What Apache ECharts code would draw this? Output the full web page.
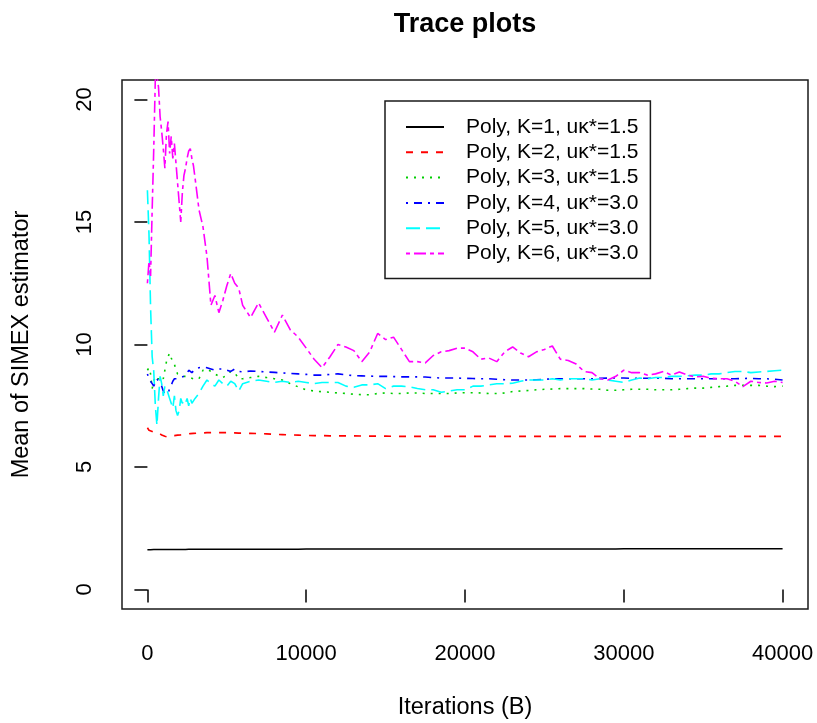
<!DOCTYPE html>
<html>
<head>
<meta charset="utf-8">
<title>Trace plots</title>
<script src="https://cdn.jsdelivr.net/npm/echarts@6/dist/echarts.min.js"></script>
<style>
  html, body { margin: 0; padding: 0; background: #ffffff; }
  #chart { width: 817px; height: 723px; }
</style>
</head>
<body>
<div id="chart"></div>
<script>
// Iteration counts at which the running means were recorded
const iterations = [
  0, 100, 200, 300, 400, 500, 600, 700, 800, 900,
  1000, 1100, 1200, 1300, 1400, 1500, 1600, 1700, 1800, 1900,
  2000, 2100, 2200, 2300, 2400, 2500, 2600, 2700, 2800, 2900,
  3000, 3250, 3500, 3750, 4000, 4250, 4500, 4750, 5000, 5250,
  5500, 5750, 6000, 6500, 7000, 7500, 8000, 8500, 9000, 9500,
  10000, 10500, 11000, 11500, 12000, 12500, 13000, 13500, 14000, 14500,
  15000, 15500, 16000, 16500, 17000, 17500, 18000, 18500, 19000, 19500,
  20000, 20500, 21000, 21500, 22000, 22500, 23000, 23500, 24000, 24500,
  25000, 25500, 26000, 26500, 27000, 27500, 28000, 28500, 29000, 29500,
  30000, 30500, 31000, 31500, 32000, 32500, 33000, 33500, 34000, 34500,
  35000, 35500, 36000, 36500, 37000, 37500, 38000, 38500, 39000, 39500,
  40000
];

// Running mean of the SIMEX estimator, one array per polynomial order K
const meanK1 = [
  1.62, 1.61, 1.62, 1.62, 1.63, 1.62, 1.63, 1.63, 1.63, 1.63,
  1.63, 1.63, 1.63, 1.63, 1.63, 1.63, 1.63, 1.63, 1.63, 1.63,
  1.63, 1.63, 1.63, 1.63, 1.63, 1.63, 1.64, 1.64, 1.64, 1.64,
  1.64, 1.64, 1.64, 1.64, 1.64, 1.64, 1.64, 1.64, 1.64, 1.64,
  1.64, 1.64, 1.64, 1.64, 1.64, 1.64, 1.64, 1.64, 1.64, 1.64,
  1.65, 1.65, 1.65, 1.65, 1.65, 1.65, 1.65, 1.65, 1.65, 1.65,
  1.65, 1.65, 1.65, 1.65, 1.65, 1.65, 1.65, 1.65, 1.65, 1.65,
  1.65, 1.65, 1.65, 1.65, 1.65, 1.65, 1.65, 1.65, 1.65, 1.65,
  1.65, 1.65, 1.65, 1.65, 1.65, 1.65, 1.65, 1.65, 1.65, 1.65,
  1.66, 1.66, 1.66, 1.66, 1.66, 1.66, 1.66, 1.66, 1.66, 1.66,
  1.66, 1.66, 1.66, 1.66, 1.66, 1.66, 1.66, 1.66, 1.66, 1.66,
  1.66
];
const meanK2 = [
  6.60, 6.50, 6.45, 6.45, 6.50, 6.45, 6.43, 6.40, 6.35, 6.30,
  6.28, 6.25, 6.25, 6.22, 6.25, 6.27, 6.28, 6.28, 6.30, 6.30,
  6.30, 6.31, 6.32, 6.33, 6.33, 6.34, 6.35, 6.36, 6.36, 6.37,
  6.37, 6.38, 6.39, 6.40, 6.40, 6.40, 6.40, 6.40, 6.40, 6.39,
  6.39, 6.38, 6.38, 6.37, 6.36, 6.35, 6.33, 6.32, 6.31, 6.30,
  6.29, 6.28, 6.28, 6.27, 6.27, 6.27, 6.27, 6.26, 6.26, 6.26,
  6.26, 6.25, 6.25, 6.25, 6.25, 6.25, 6.25, 6.25, 6.25, 6.25,
  6.25, 6.25, 6.25, 6.25, 6.25, 6.25, 6.25, 6.25, 6.25, 6.25,
  6.25, 6.25, 6.25, 6.25, 6.25, 6.25, 6.25, 6.25, 6.25, 6.25,
  6.25, 6.25, 6.25, 6.25, 6.25, 6.25, 6.25, 6.25, 6.25, 6.25,
  6.25, 6.25, 6.25, 6.25, 6.25, 6.25, 6.25, 6.25, 6.25, 6.25,
  6.25
];
const meanK3 = [
  8.95, 9.05, 8.80, 8.20, 8.50, 8.70, 8.60, 8.55, 8.60, 8.70,
  8.60, 8.95, 9.30, 9.50, 9.65, 9.45, 9.30, 9.20, 8.95, 8.80,
  8.80, 8.75, 8.70, 8.70, 8.65, 8.70, 8.70, 8.65, 8.70, 8.60,
  8.55, 8.60, 8.95, 9.00, 8.90, 8.80, 8.70, 8.65, 8.75, 8.90,
  8.85, 8.60, 8.60, 8.65, 8.70, 8.65, 8.60, 8.55, 8.40, 8.27,
  8.15, 8.10, 8.07, 8.05, 8.02, 8.00, 7.97, 7.95, 7.95, 8.00,
  8.02, 8.00, 8.00, 8.02, 8.02, 8.00, 8.00, 8.00, 8.00, 8.02,
  8.03, 8.03, 8.02, 8.00, 8.00, 8.02, 8.08, 8.10, 8.12, 8.15,
  8.17, 8.18, 8.20, 8.20, 8.20, 8.20, 8.18, 8.17, 8.13, 8.13,
  8.15, 8.17, 8.17, 8.17, 8.15, 8.15, 8.15, 8.17, 8.20, 8.22,
  8.22, 8.25, 8.28, 8.30, 8.33, 8.33, 8.33, 8.33, 8.30, 8.28,
  8.30
];
const meanK4 = [
  8.80, 8.60, 8.50, 8.40, 8.30, 8.45, 8.60, 8.50, 8.40, 8.30,
  8.10, 8.00, 7.95, 8.00, 8.20, 8.34, 8.50, 8.60, 8.65, 8.60,
  8.65, 8.65, 8.60, 8.70, 8.75, 8.80, 8.95, 8.90, 8.85, 8.90,
  9.00, 9.05, 9.08, 9.05, 9.00, 8.95, 9.00, 9.00, 8.95, 8.90,
  9.00, 8.90, 8.88, 8.92, 8.90, 8.88, 8.86, 8.84, 8.82, 8.80,
  8.78, 8.75, 8.75, 8.78, 8.80, 8.76, 8.73, 8.72, 8.71, 8.70,
  8.70, 8.69, 8.68, 8.68, 8.68, 8.67, 8.65, 8.63, 8.63, 8.63,
  8.62, 8.61, 8.60, 8.60, 8.58, 8.56, 8.55, 8.55, 8.55, 8.56,
  8.58, 8.60, 8.60, 8.60, 8.60, 8.60, 8.60, 8.62, 8.63, 8.63,
  8.63, 8.62, 8.62, 8.62, 8.63, 8.62, 8.60, 8.60, 8.60, 8.60,
  8.60, 8.60, 8.60, 8.60, 8.60, 8.61, 8.62, 8.60, 8.60, 8.58,
  8.55
];
const meanK5 = [
  16.3, 14.5, 11.5, 9.5, 8.9, 7.5, 6.7, 7.8, 8.7, 8.4,
  7.9, 8.3, 8.2, 8.0, 7.8, 7.6, 7.4, 7.9, 7.3, 7.1,
  7.3, 7.8, 7.6, 7.7, 7.6, 7.8, 7.5, 7.8, 7.6, 7.7,
  7.8, 8.0, 8.3, 8.55, 8.4, 8.3, 8.55, 8.4, 8.3, 8.5,
  8.4, 8.1, 8.4, 8.5, 8.55, 8.5, 8.45, 8.5, 8.45, 8.5,
  8.45, 8.4, 8.45, 8.45, 8.45, 8.3, 8.25, 8.35, 8.35, 8.4,
  8.2, 8.3, 8.3, 8.27, 8.2, 8.15, 8.15, 8.05, 8.1, 8.15,
  8.15, 8.3, 8.3, 8.35, 8.4, 8.4, 8.42, 8.5, 8.55, 8.55,
  8.55, 8.6, 8.55, 8.6, 8.6, 8.6, 8.55, 8.6, 8.55, 8.5,
  8.45, 8.55, 8.63, 8.6, 8.65, 8.65, 8.7, 8.7, 8.72, 8.75,
  8.75, 8.8, 8.8, 8.85, 8.9, 8.9, 8.85, 8.88, 8.9, 8.93,
  8.95
];
const meanK6 = [
  12.5, 13.4, 12.8, 15.5, 18.0, 20.9, 21.0, 20.5, 19.3, 18.7,
  18.0, 17.2, 18.6, 19.1, 17.8, 18.5, 17.6, 18.2, 17.4, 16.6,
  15.8, 15.0, 16.2, 16.9, 17.2, 17.6, 17.9, 18.0, 17.6, 17.3,
  16.8, 15.5, 14.8, 13.6, 11.6, 12.0, 11.3, 11.8, 12.4, 12.9,
  12.5, 12.3, 11.6, 11.1, 11.7, 11.1, 10.5, 11.2, 10.6, 10.3,
  9.85, 9.4, 9.05, 9.5, 10.0, 9.9, 9.75, 9.3, 9.7, 10.45,
  10.2, 10.3, 9.8, 9.3, 9.3, 9.25, 9.55, 9.7, 9.75, 9.85,
  9.85, 9.7, 9.4, 9.45, 9.3, 9.7, 9.9, 9.65, 9.5, 9.7,
  9.8, 9.94, 9.4, 9.35, 9.2, 8.9, 8.85, 8.6, 8.55, 8.7,
  8.95, 8.85, 8.85, 8.75, 8.8, 8.9, 8.75, 8.88, 8.75, 8.68,
  8.7, 8.62, 8.6, 8.6, 8.5, 8.28, 8.5, 8.45, 8.43, 8.5,
  8.45
];

const seriesNames = [
  'Poly, K=1, uκ*=1.5',
  'Poly, K=2, uκ*=1.5',
  'Poly, K=3, uκ*=1.5',
  'Poly, K=4, uκ*=3.0',
  'Poly, K=5, uκ*=3.0',
  'Poly, K=6, uκ*=3.0'
];
const seriesValues = [meanK1, meanK2, meanK3, meanK4, meanK5, meanK6];
const xTicks = [0, 10000, 20000, 30000, 40000];
const yTicks = [0, 5, 10, 15, 20];

// Line colours and dash patterns: solid, dashed, dotted, dot-dash, long dash, two-dash
const lineColors = ['#000000', '#ff0000', '#00cd00', '#0000ff', '#00ffff', '#ff00ff'];
const lineDashes = ['solid', [7, 8], [2, 6], [2, 6, 8, 6], [14, 6], [4, 4, 12, 4]];

const FONT = '"Liberation Sans", Arial, Helvetica, sans-serif';

const series = seriesNames.map((name, s) => ({
  name: name,
  type: 'line',
  symbol: 'none',
  showSymbol: false,
  animation: false,
  clip: true,
  lineStyle: { color: lineColors[s], width: 1.6, type: lineDashes[s] },
  itemStyle: { color: lineColors[s] },
  data: iterations.map((t, i) => [t, seriesValues[s][i]])
}));

const chart = echarts.init(document.getElementById('chart'), null, { renderer: 'canvas' });
chart.setOption({
  backgroundColor: '#ffffff',
  animation: false,
  textStyle: { fontFamily: FONT },
  title: {
    text: 'Trace plots',
    left: 465,
    top: 11,
    textAlign: 'center',
    padding: 0,
    textStyle: { fontFamily: FONT, fontSize: 27, fontWeight: 'bold', color: '#000' }
  },
  grid: {
    left: 122, right: 9, top: 80, bottom: 114,
    containLabel: false,
    outerBoundsMode: 'none',
    show: true,
    borderColor: '#1a1a1a',
    borderWidth: 1.5,
    backgroundColor: 'transparent'
  },
  legend: {
    orient: 'vertical',
    left: 385,
    top: 101,
    data: seriesNames,
    backgroundColor: '#ffffff',
    borderColor: '#1a1a1a',
    borderWidth: 1.5,
    borderRadius: 0,
    padding: [15, 12, 14, 20],
    itemWidth: 38,
    itemHeight: 14,
    itemGap: 3.3,
    selectedMode: false,
    itemStyle: { opacity: 0, color: 'transparent', borderWidth: 0 },
    textStyle: { fontFamily: FONT, fontSize: 21, color: '#000', lineHeight: 22, padding: [0, 0, 0, 17] }
  },
  xAxis: {
    type: 'value',
    min: -1600,
    max: 41600,
    name: 'Iterations (B)',
    nameLocation: 'middle',
    nameGap: 87,
    nameTextStyle: { fontFamily: FONT, fontSize: 23.5, color: '#000' },
    axisLine: { show: false },
    splitLine: { show: false },
    axisTick: {
      show: true, inside: false, length: 13, customValues: xTicks,
      lineStyle: { color: '#000', width: 1.5 }
    },
    axisLabel: {
      customValues: xTicks, margin: 34,
      formatter: (v) => String(v),
      fontFamily: FONT, fontSize: 22, color: '#000'
    }
  },
  yAxis: {
    type: 'value',
    min: -0.8,
    max: 20.8,
    name: 'Mean of SIMEX estimator',
    nameLocation: 'middle',
    nameRotate: 90,
    nameGap: 88,
    nameTextStyle: { fontFamily: FONT, fontSize: 23.5, color: '#000' },
    axisLine: { show: false },
    splitLine: { show: false },
    axisTick: {
      show: true, inside: false, length: 13, customValues: yTicks,
      lineStyle: { color: '#000', width: 1.5 }
    },
    axisLabel: {
      customValues: yTicks, rotate: 90, margin: 26,
      formatter: (v) => String(v),
      fontFamily: FONT, fontSize: 22, color: '#000'
    }
  },
  series: series
});
</script>
</body>
</html>
